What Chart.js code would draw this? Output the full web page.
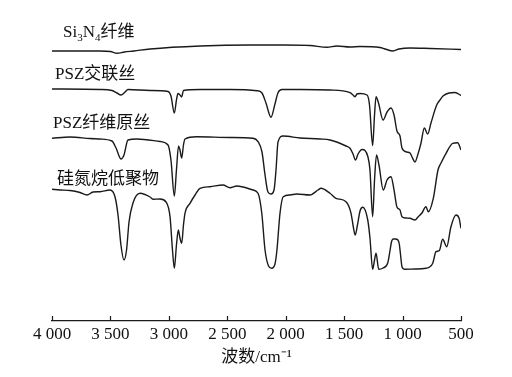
<!DOCTYPE html>
<html>
<head>
<meta charset="utf-8">
<script src="https://cdn.jsdelivr.net/npm/chart.js@4/dist/chart.umd.min.js"></script>
<style>
  html, body { margin: 0; padding: 0; background: #fff; }
  #wrap { width: 512px; height: 377px; position: relative; }
</style>
</head>
<body>
<div id="wrap"><canvas id="ftir"></canvas></div>
<script>
// FTIR spectra, wavenumber (cm-1) vs offset transmittance (arb. units)
const si3n4Wn = [4000, 3589, 3500, 3444, 3380, 3300, 3161, 2733, 2306, 2023, 1792, 1647, 1561, 1450, 1364, 1193, 1150, 1082, 1030, 937, 765, 500];
const si3n4T  = [270, 270, 269.5, 267.7, 269, 270, 272, 275, 276, 276, 275.5, 273.7, 275, 274, 274.5, 273.5, 272, 270, 272, 273, 272.5, 271.5];

const crossWn = [4000, 3589, 3487, 3444, 3410, 3375, 3350, 3161, 3007, 2982, 2953, 2935, 2922, 2905, 2890, 2875, 2733, 2477, 2246, 2203, 2169, 2126, 2092, 2066, 2032, 1878, 1621, 1450, 1424, 1407, 1390, 1364, 1304, 1283, 1256, 1240, 1227, 1206, 1167, 1133, 1099, 1073, 1048, 1022, 1005, 965, 936, 919, 894, 868, 842, 814, 785, 757, 708, 680, 654, 603, 551, 500];
const crossT  = [232, 231.5, 230.5, 228, 226, 229, 231.5, 230.5, 229.5, 225, 208, 221, 227.5, 226, 224, 230.5, 231.5, 231.5, 230.3, 228, 218, 203.7, 217, 228.3, 231.5, 231.5, 231, 228.3, 226, 224.3, 227, 227.5, 226, 216, 175.5, 206, 224.3, 218, 201, 209, 213, 206, 190, 185, 173, 169, 168, 164, 159, 167, 178, 193, 187, 198, 216, 221, 225, 228, 228.5, 225.5];

const greenWn = [4000, 3846, 3675, 3589, 3487, 3452, 3410, 3384, 3350, 3273, 3076, 3007, 2982, 2953, 2935, 2917, 2905, 2890, 2875, 2862, 2762, 2477, 2280, 2237, 2203, 2177, 2152, 2126, 2100, 2083, 2066, 2023, 1878, 1707, 1621, 1484, 1450, 1424, 1403, 1381, 1347, 1296, 1279, 1256, 1240, 1223, 1202, 1165, 1133, 1099, 1073, 1048, 1022, 1005, 971, 936, 894, 868, 836, 800, 780, 737, 697, 671, 628, 571, 528, 500];
const greenT  = [182.7, 184, 182.5, 182, 180, 173, 162, 166, 181, 182, 179.5, 176, 161, 125, 151, 175, 171, 163, 176, 182, 184.3, 183.5, 182.7, 179.3, 169, 146, 129, 127, 131, 151, 179, 185, 183, 182, 181, 175, 172.7, 167, 161, 167, 171.5, 164, 151, 104.3, 141, 166, 156, 131, 141, 144.3, 131, 114, 111, 104.3, 103, 102.7, 101, 104, 107.7, 114.3, 109.3, 122.7, 151, 158, 167.7, 177.7, 178.3, 171];

const oligoWn = [4000, 3932, 3846, 3760, 3700, 3649, 3589, 3504, 3461, 3435, 3410, 3384, 3362, 3341, 3307, 3247, 3161, 3136, 3076, 3024, 2990, 2969, 2953, 2935, 2919, 2905, 2890, 2875, 2862, 2819, 2776, 2733, 2648, 2537, 2477, 2419, 2280, 2237, 2205, 2177, 2147, 2120, 2092, 2075, 2049, 2021, 1963, 1906, 1792, 1724, 1698, 1621, 1570, 1484, 1441, 1420, 1405, 1386, 1364, 1341, 1298, 1279, 1256, 1240, 1227, 1204, 1167, 1127, 1108, 1095, 1080, 1060, 1040, 1028, 1018, 1005, 985, 894, 800, 742, 714, 686, 657, 622, 586, 543, 517, 500];
const oligoT  = [131.7, 131, 130.5, 128.5, 126, 129, 129.3, 131, 124.3, 106, 76, 61, 71, 99, 118, 127.7, 124, 121.7, 122, 119, 104.3, 71, 52.7, 76, 91, 83, 77.7, 96, 107.7, 117.7, 126, 132.7, 134.3, 136, 133.3, 135, 131, 127.7, 108, 71, 55, 52.7, 57, 71, 107.7, 124.3, 126, 127, 126, 131, 132.7, 127.7, 122.7, 119.3, 107.7, 93, 86, 96, 110, 113.7, 101, 83, 51.7, 61, 67.7, 51.7, 53, 58, 70, 79, 82, 82, 81, 77, 67, 54.3, 51.7, 52, 52.7, 57.7, 69.3, 70.3, 81.7, 74.3, 94.3, 106, 103, 92.7];

const xTicks = [4000, 3500, 3000, 2500, 2000, 1500, 1000, 500];

const pts = (wn, t) => wn.map((w, i) => ({ x: w, y: t[i] }));
const line = (wn, t) => ({ data: pts(wn, t), borderColor: '#1a1a1a', borderWidth: 1.4, pointRadius: 0, fill: false, cubicInterpolationMode: 'monotone' });

const serif = '"Liberation Serif", "Noto Sans CJK SC", serif';

const labelsPlugin = {
  id: 'spectrumLabels',
  afterDraw(chart) {
    const ctx = chart.ctx;
    const xs = chart.scales.x;
    const b = chart.chartArea.bottom;
    ctx.save();
    // inward tick marks
    ctx.strokeStyle = '#1a1a1a';
    ctx.lineWidth = 1.2;
    xs.ticks.forEach((t, i) => {
      const px = Math.round(xs.getPixelForTick(i)) + 0.5;
      ctx.beginPath();
      ctx.moveTo(px, b);
      ctx.lineTo(px, b - 5);
      ctx.stroke();
    });
    // curve names
    ctx.fillStyle = '#111';
    ctx.textBaseline = 'alphabetic';
    ctx.font = '17px ' + serif;
    let x = 63;
    const y0 = 37;
    ctx.fillText('Si', x, y0); x += ctx.measureText('Si').width;
    ctx.font = '11px ' + serif;
    ctx.fillText('3', x, y0 + 4); x += ctx.measureText('3').width;
    ctx.font = '17px ' + serif;
    ctx.fillText('N', x, y0); x += ctx.measureText('N').width;
    ctx.font = '11px ' + serif;
    ctx.fillText('4', x, y0 + 4); x += ctx.measureText('4').width;
    ctx.font = '17px ' + serif;
    ctx.fillText('纤维', x, y0);
    ctx.fillText('PSZ交联丝', 55, 79);
    ctx.fillText('PSZ纤维原丝', 53, 128);
    ctx.fillText('硅氮烷低聚物', 57, 184);
    ctx.restore();
  }
};

new Chart(document.getElementById('ftir').getContext('2d'), {
  type: 'line',
  data: {
    datasets: [
      line(si3n4Wn, si3n4T),
      line(crossWn, crossT),
      line(greenWn, greenT),
      line(oligoWn, oligoT)
    ]
  },
  options: {
    responsive: true,
    maintainAspectRatio: false,
    animation: false,
    layout: { padding: { left: 52, right: 51, top: 21, bottom: 0 } },
    plugins: { legend: { display: false }, tooltip: { enabled: false } },
    scales: {
      x: {
        type: 'linear',
        reverse: true,
        min: 500,
        max: 4000,
        afterBuildTicks: s => { s.ticks = xTicks.map(v => ({ value: v })); },
        afterFit: s => { s.height = 56; },
        grid: { display: true, drawOnChartArea: false, drawTicks: false },
        border: { display: true, color: '#1a1a1a', width: 1.3 },
        ticks: {
          color: '#111',
          padding: 3,
          maxRotation: 0,
          font: { family: serif, size: 17 },
          callback: v => v >= 1000 ? String(v).replace(/(\d)(\d{3})$/, '$1 $2') : String(v)
        },
        title: {
          display: true,
          text: '波数/cm⁻¹',
          color: '#111',
          padding: { top: 0, bottom: 9 },
          font: { family: serif, size: 17 }
        }
      },
      y: { display: false, min: 0, max: 300 }
    }
  },
  plugins: [labelsPlugin]
});
</script>
</body>
</html>
